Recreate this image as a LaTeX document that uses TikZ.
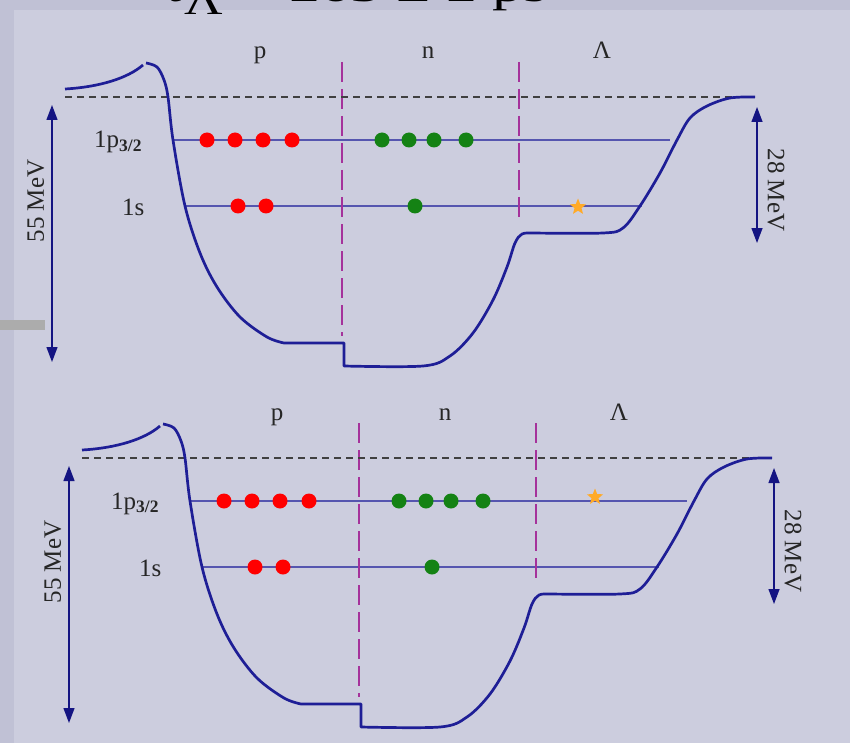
\documentclass[tikz,border=0pt]{standalone}
\usepackage{fontspec}
\setmainfont{Liberation Serif}
\usepackage{tikz}
\usetikzlibrary{arrows.meta,shapes.geometric}

\definecolor{slidebg}{RGB}{204,205,222}
\definecolor{slideedge}{RGB}{192,193,213}
\definecolor{titlecyan}{RGB}{60,215,215}
\definecolor{wellblue}{RGB}{30,30,150}
\definecolor{levelblue}{RGB}{85,85,175}
\definecolor{wallpurple}{RGB}{165,50,155}
\definecolor{arrowblue}{RGB}{20,20,130}
\definecolor{neutgreen}{RGB}{20,130,20}
\definecolor{hyporange}{RGB}{255,170,40}

\begin{document}
\begin{tikzpicture}[x=1pt, y=-1pt,
  well/.style={draw=wellblue, line width=2.7pt, line join=round},
  level/.style={draw=levelblue, line width=1.3pt},
  zero/.style={draw=black!75, line width=1.4pt, dash pattern=on 7pt off 5pt},
  wall/.style={draw=wallpurple, line width=1.8pt, dash pattern=on 20pt off 7pt},
  gap/.style={draw=arrowblue, line width=1.3pt, {Triangle[width=11pt,length=15pt]}-{Triangle[width=11pt,length=15pt]}},
  lbl/.style={font=\fontsize{25}{28}\selectfont, text=black!85, inner sep=0pt},
  prot/.style={circle, fill=red, minimum size=15pt, inner sep=0pt},
  neut/.style={circle, fill=neutgreen, minimum size=15pt, inner sep=0pt},
  hyp/.style={star, star points=5, star point ratio=2.3, fill=hyporange, minimum size=17pt, inner sep=0pt}]
  \fill[slideedge] (0,0) rectangle (850,743);
  \fill[slidebg] (14,10) rectangle (850,743);
  \fill[gray!65] (0,320) rectangle (45,330);
  \useasboundingbox (0,0) rectangle (850,743);
  % title, cut off by the page top
  \node[anchor=base west, inner sep=0pt, font=\fontsize{56}{60}\selectfont, text=titlecyan] (bullet) at (80,0) {Λ};
  \node[anchor=base west, inner sep=0pt, font=\fontsize{44}{48}\selectfont] (title) at (160,2)
    {\scalebox{1.4}[1]{τ\raisebox{-13pt}{\fontsize{38}{40}\selectfont Λ} = 263 ± 2 ps}};
  \foreach \dx/\dy/\sy/\nm in {0/0/207/up, 17/361/136/dn} {
  \begin{scope}[shift={(\dx,\dy)}, name prefix=\nm-]
    \draw[level] (173,140) -- (670,140);
    \draw[level] (185,206) -- (642,206);
    \draw[wall] (342,62) -- (342,336);
    \draw[wall] (519,62) -- (519,222);
    \draw[zero] (65,97) -- (755,97);
    \draw[well] (65,89) .. controls (100,87) and (128,78) .. (143,65);
    \draw[well] plot[smooth, tension=0.55] coordinates {(146,63) (157,67) (164,80) (168,97) (173,140) (185,206) (200,253) (217,287) (240,317) (267,337) (284,343)}
      -- (344,343) -- (344,366)
      -- plot[smooth, tension=0.55] coordinates {(344,366) (423,366) (450,356) (473,333) (493,300) (507,267) (515,243) (522,234) (532,233)}
      -- plot[smooth, tension=0.55] coordinates {(532,233) (603,233) (623,228) (640,206) (660,173) (677,140) (690,118) (707,106) (730,98) (755,97)};
    \foreach \x in {207,235,263,292} \node[prot] at (\x,140) {};
    \foreach \x in {238,266} \node[prot] at (\x,206) {};
    \foreach \x in {382,409,434,466} \node[neut] at (\x,140) {};
    \node[neut] (n1s) at (415,206) {};
    \node[hyp] (lam) at (578,\sy) {};
    \node[lbl, anchor=base] (p) at (260,59) {p};
    \node[lbl, anchor=base] (n) at (428,59) {n};
    \node[lbl, anchor=base] (L) at (602,59) {Λ};
    \node[lbl, anchor=base west] (lp) at (94,148) {1p\textsubscript{\bfseries 3/2}};
    \node[lbl, anchor=base west] (ls) at (122,215) {1s};
    \coordinate (a1) at (52,105); \coordinate (a2) at (52,362);
    \coordinate (b1) at (757,107); \coordinate (b2) at (757,243);
    \draw[gap] (a1) -- (a2);
    \draw[gap] (b1) -- (b2);
    \node[lbl, rotate=90] (deep) at (36,201) {55 MeV};
    \node[lbl, rotate=-90] (shal) at (776,190) {28 MeV};
  \end{scope}
  }
\end{tikzpicture}
\end{document}
